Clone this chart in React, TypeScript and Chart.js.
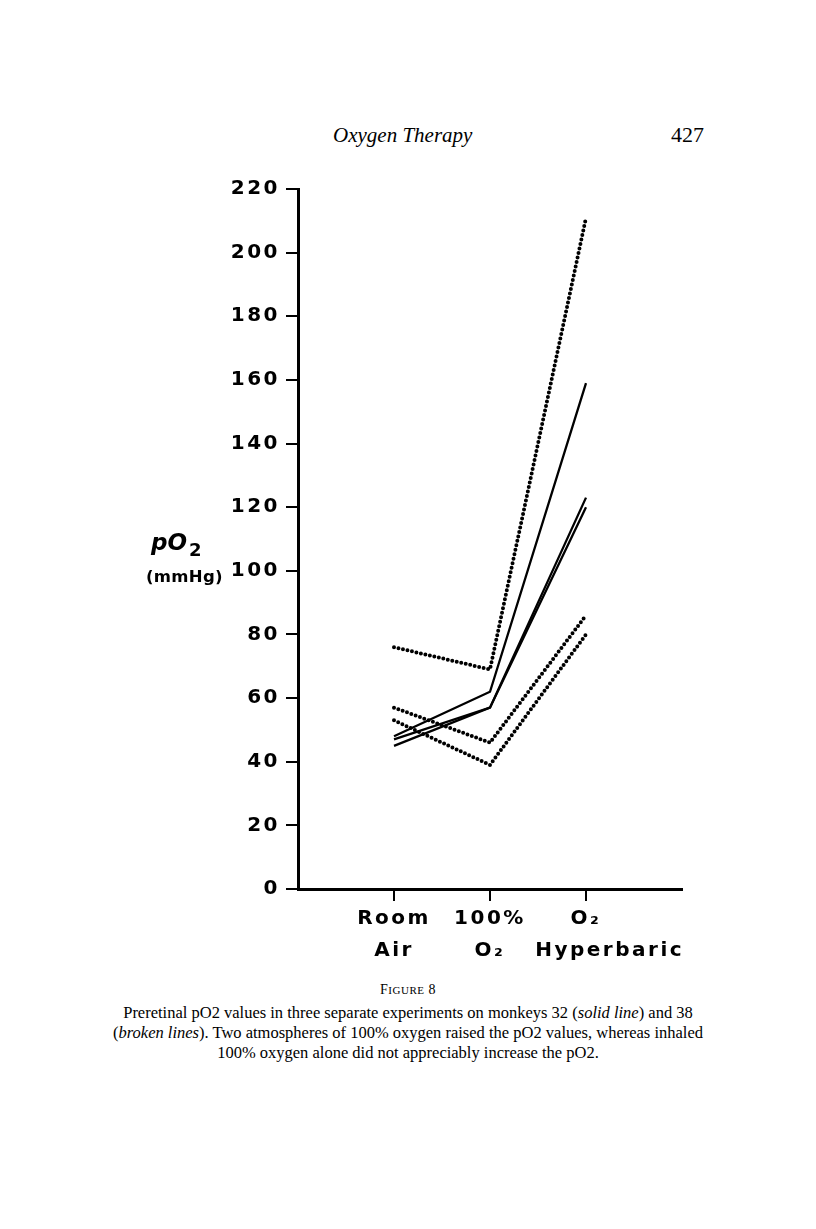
import React, { useEffect, useRef } from 'react';
import { Chart, registerables } from 'chart.js';

Chart.register(...registerables);

// Categories (x positions 1..3 on a 0..4 axis)
const categories: string[][] = [
  ['Room', 'Air'],
  ['100%', 'O₂'],
  ['O₂', '\u00a0\u00a0\u00a0\u00a0\u00a0Hyperbaric'],
];
const xPositions = [1, 2, 3];

// Monkey 32 (solid lines)
const solidA = [48, 62, 159];
const solidB = [47, 57, 123];
const solidC = [45, 57, 120];

// Monkey 38 (broken lines)
const dottedA = [76, 69, 211];
const dottedB = [57, 46, 86];
const dottedC = [53, 39, 80];

const yTicks = [0, 20, 40, 60, 80, 100, 120, 140, 160, 180, 200, 220];

const toPoints = (arr: number[]) => xPositions.map((x, i) => ({ x, y: arr[i] }));

const spacingPlugin = {
  id: 'letterSpacing',
  beforeUpdate(chart: any) {
    chart.ctx.letterSpacing = '2.5px';
  },
  beforeDraw(chart: any) {
    chart.ctx.letterSpacing = '2.5px';
  },
};

function App() {
  const ref = useRef<HTMLCanvasElement | null>(null);

  useEffect(() => {
    if (!ref.current) return;
    const solid = (d: number[]) => ({
      data: toPoints(d),
      borderColor: '#000',
      borderWidth: 2.3,
      pointRadius: 0,
      tension: 0,
      fill: false,
    });
    const dotted = (d: number[]) => ({
      data: toPoints(d),
      borderColor: '#000',
      borderWidth: 4,
      borderDash: [0, 4.6],
      borderCapStyle: 'round' as const,
      pointRadius: 0,
      tension: 0,
      fill: false,
    });
    const tickFont = { family: 'DejaVu Sans', size: 20, weight: 'bold' as const, lineHeight: 1.6 };
    const chart = new Chart(ref.current, {
      type: 'line',
      data: {
        datasets: [
          dotted(dottedA),
          dotted(dottedB),
          dotted(dottedC),
          solid(solidA),
          solid(solidB),
          solid(solidC),
        ],
      },
      options: {
        animation: false,
        responsive: false,
        events: [],
        layout: { padding: { top: 29, right: 8, left: 0, bottom: 0 } },
        plugins: { legend: { display: false }, tooltip: { enabled: false } },
        scales: {
          x: {
            type: 'linear',
            min: 0,
            max: 4,
            afterBuildTicks: (s: any) => {
              s.ticks = xPositions.map((v) => ({ value: v }));
            },
            afterFit: (s: any) => {
              s.height = 80;
            },
            ticks: {
              callback: (v: any) => categories[Number(v) - 1] ?? '',
              color: '#000',
              font: tickFont,
              maxRotation: 0,
              autoSkip: false,
              padding: 2,
            },
            grid: {
              drawOnChartArea: false,
              drawTicks: true,
              tickLength: 12,
              color: '#000',
              lineWidth: 2,
            },
            border: { display: true, color: '#000', width: 3 },
          },
          y: {
            min: 0,
            max: 220,
            afterBuildTicks: (s: any) => {
              s.ticks = yTicks.map((v) => ({ value: v }));
            },
            afterFit: (s: any) => {
              s.width = 108;
            },
            ticks: {
              callback: (v: any) => String(v),
              color: '#000',
              font: { family: 'DejaVu Sans', size: 20, weight: 'bold' as const },
              padding: 6,
            },
            grid: {
              drawOnChartArea: false,
              drawTicks: true,
              tickLength: 12,
              color: '#000',
              lineWidth: 2,
            },
            border: { display: true, color: '#000', width: 3 },
          },
        },
      },
      plugins: [spacingPlugin],
    });
    return () => chart.destroy();
  }, []);

  const serif = '"Liberation Serif", "Times New Roman", serif';
  const sans = '"DejaVu Sans", sans-serif';

  return (
    <div style={{ position: 'absolute', left: 0, top: 0, width: 816, height: 1229, background: '#fff', fontFamily: serif, color: '#000' }}>
      <div style={{ position: 'absolute', left: 333, top: 123, fontSize: 21, fontStyle: 'italic', whiteSpace: 'nowrap' }}>
        Oxygen Therapy
      </div>
      <div style={{ position: 'absolute', left: 671, top: 122, fontSize: 22, whiteSpace: 'nowrap' }}>427</div>

      <canvas
        ref={ref}
        width={500}
        height={809}
        style={{ position: 'absolute', left: 190, top: 160, width: 500, height: 809 }}
      />

      <div style={{ position: 'absolute', left: 151, top: 528, fontFamily: sans, fontWeight: 'bold', fontStyle: 'italic', fontSize: 23, whiteSpace: 'nowrap', lineHeight: '28px' }}>
        pO<span style={{ fontSize: 18, fontStyle: 'normal', position: 'relative', top: 6, marginLeft: 2 }}>2</span>
      </div>
      <div style={{ position: 'absolute', left: 146, top: 567, fontFamily: sans, fontWeight: 'bold', fontSize: 16.5, whiteSpace: 'nowrap', letterSpacing: 0.3 }}>
        (mmHg)
      </div>

      <div style={{ position: 'absolute', left: 0, top: 982, width: 816, textAlign: 'center', fontSize: 14, letterSpacing: 0.5 }}>
        F<span style={{ fontSize: 11 }}>IGURE</span> 8
      </div>
      <div style={{ position: 'absolute', left: 0, top: 1003, width: 816, textAlign: 'center', fontSize: 16.5, lineHeight: '20px', whiteSpace: 'nowrap' }}>
        <div>
          Preretinal pO2 values in three separate experiments on monkeys 32 (<i>solid line</i>) and 38
        </div>
        <div>
          (<i>broken lines</i>). Two atmospheres of 100% oxygen raised the pO2 values, whereas inhaled
        </div>
        <div>100% oxygen alone did not appreciably increase the pO2.</div>
      </div>
    </div>
  );
}

export default App;
